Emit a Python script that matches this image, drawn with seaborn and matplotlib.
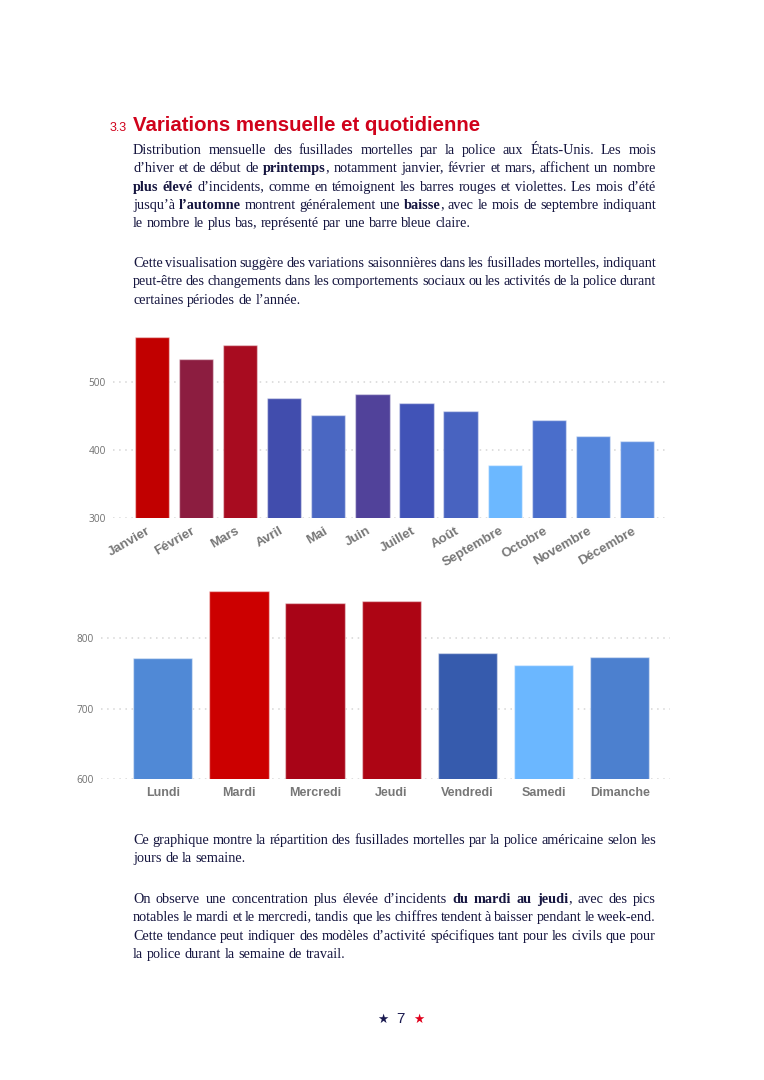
"""
Page 7 - variations mensuelle et quotidienne (fusillades mortelles)
"""
import math

import matplotlib
matplotlib.use("Agg")
import matplotlib.pyplot as plt
from matplotlib.font_manager import FontProperties
from matplotlib.transforms import ScaledTranslation
import seaborn as sns
import pandas as pd

W, H = 764, 1080

mois = ["Janvier", "Février", "Mars", "Avril", "Mai", "Juin", "Juillet",
        "Août", "Septembre", "Octobre", "Novembre", "Décembre"]
fusillades_mois = [566, 534, 555, 477, 452, 483, 469, 458, 378, 444, 421, 413]
couleurs_mois = ["#C10000", "#8C1D40", "#A80C20", "#414DAD", "#4A67C2", "#51429A",
                 "#4153B7", "#4863C0", "#6CB8FF", "#4A6ECB", "#5586DB", "#5A8BDF"]

jours = ["Lundi", "Mardi", "Mercredi", "Jeudi", "Vendredi", "Samedi", "Dimanche"]
fusillades_jours = [771, 866, 849, 852, 778, 761, 773]
couleurs_jours = ["#5089D6", "#CC0000", "#A80417", "#AD0514", "#365BAD", "#6BB7FF", "#4C80CF"]

ROUGE = "#D0021B"
ENCRE = "#15153F"
GRIS = "#777777"

para1 = [
    "Distribution mensuelle des fusillades mortelles par la police aux États-Unis. Les mois",
    "d’hiver et de début de *printemps*, notamment janvier, février et mars, affichent un nombre",
    "*plus élevé* d’incidents, comme en témoignent les barres rouges et violettes. Les mois d’été",
    "jusqu’à *l’automne* montrent généralement une *baisse*, avec le mois de septembre indiquant",
    "le nombre le plus bas, représenté par une barre bleue claire.",
]
para2 = [
    "Cette visualisation suggère des variations saisonnières dans les fusillades mortelles, indiquant",
    "peut-être des changements dans les comportements sociaux ou les activités de la police durant",
    "certaines périodes de l’année.",
]
para3 = [
    "Ce graphique montre la répartition des fusillades mortelles par la police américaine selon les",
    "jours de la semaine.",
]
para4 = [
    "On observe une concentration plus élevée d’incidents *du mardi au jeudi*, avec des pics",
    "notables le mardi et le mercredi, tandis que les chiffres tendent à baisser pendant le week-end.",
    "Cette tendance peut indiquer des modèles d’activité spécifiques tant pour les civils que pour",
    "la police durant la semaine de travail.",
]

sns.set_style("white")
plt.rcParams["font.family"] = ["Liberation Sans", "DejaVu Sans"]

fig = plt.figure(figsize=(W / 100, H / 100), dpi=100)
renderer = fig.canvas.get_renderer()

TAILLE = 10.3
TXT = dict(family="Liberation Serif", size=TAILLE, color=ENCRE)
PROPS = {False: FontProperties(family="Liberation Serif", size=TAILLE),
         True: FontProperties(family="Liberation Serif", size=TAILLE, weight="bold")}
X0, X1 = 133, 656


def fx(x):
    return x / W


def fy(y):
    return 1 - y / H


def largeur(s, bold):
    t = fig.text(0, 0, s, weight="bold" if bold else "normal", **TXT)
    w = t.get_window_extent(renderer).width
    t.remove()
    return w


def y_cale(s, bold, ligne):
    # ligne de base commune : compense l'arrondi d'Agg selon la descente du mot
    _, h, d = renderer.get_text_width_height_descent(s, PROPS[bold], ismath=False)
    haut = h - d
    return ligne + math.floor(haut + d) - math.floor(haut) - d


def decoupe(ligne):
    # mots -> liste de morceaux (texte, gras)
    mots, mot, piece, gras = [], [], "", False
    for c in ligne:
        if c == "*":
            if piece:
                mot.append((piece, gras))
            piece, gras = "", not gras
        elif c == " ":
            if piece:
                mot.append((piece, gras))
            if mot:
                mots.append(mot)
            mot, piece = [], ""
        else:
            piece += c
    if piece:
        mot.append((piece, gras))
    if mot:
        mots.append(mot)
    return mots


ESPACE = largeur("x x", False) - largeur("xx", False)


def paragraphe(lignes, y0, pas=18.3):
    for i, ligne in enumerate(lignes):
        y = round(y0 + i * pas)
        mots = decoupe(ligne)
        larg = [[largeur(p, g) for p, g in m] for m in mots]
        total = sum(sum(l) for l in larg)
        derniere = i == len(lignes) - 1
        gap = ESPACE if derniere else (X1 - X0 - total) / (len(mots) - 1)
        x = X0
        for m, l in zip(mots, larg):
            for (p, g), w in zip(m, l):
                fig.text(fx(x), fy(y_cale(p, g, y)), p, ha="left", va="baseline",
                         weight="bold" if g else "normal", **TXT)
                x += w
            x += gap


# titre
fig.text(fx(110), fy(131), "3.3", color=ROUGE, size=9, ha="left", va="baseline")
fig.text(fx(133), fy(131), "Variations mensuelle et quotidienne", color=ROUGE,
         size=14.7, weight="bold", ha="left", va="baseline")

paragraphe(para1, 154)
paragraphe(para2, 267)
paragraphe(para3, 844)
paragraphe(para4, 903)


def style_axe(ax):
    sns.despine(ax=ax, left=True, bottom=True)
    ax.set_xlabel("")
    ax.set_ylabel("")
    ax.set_axisbelow(True)
    ax.yaxis.grid(True, color="#D6D6D6", linestyle=(0, (1, 3)), linewidth=1.1)
    ax.xaxis.grid(False)
    ax.tick_params(axis="y", length=0, pad=5, labelsize=7.3, labelcolor="#707070")
    ax.tick_params(axis="x", length=0)
    for lab in ax.get_yticklabels():
        lab.set_family("Open Sans")


# graphique mensuel
df_mois = pd.DataFrame({"mois": mois, "n": fusillades_mois})
ax1 = fig.add_axes([fx(113), fy(518), (668 - 113) / W, (518 - 334.4) / H])
sns.barplot(data=df_mois, x="mois", y="n", hue="mois", palette=couleurs_mois,
            saturation=1, legend=False, width=0.78, edgecolor=(1, 1, 1, 0.45),
            linewidth=1, ax=ax1)
ax1.set_ylim(300, 570)
ax1.set_xlim(-0.88, 11.7)
ax1.set_yticks([300, 400, 500])
style_axe(ax1)
ax1.tick_params(axis="x", pad=5)
decalage = ScaledTranslation(-5 / 100, 0, fig.dpi_scale_trans)
for lab in ax1.get_xticklabels():
    lab.set_rotation(30)
    lab.set_ha("right")
    lab.set_rotation_mode("anchor")
    lab.set_fontsize(9.5)
    lab.set_fontweight("bold")
    lab.set_color(GRIS)
    lab.set_transform(lab.get_transform() + decalage)

# graphique hebdomadaire
df_jours = pd.DataFrame({"jour": jours, "n": fusillades_jours})
ax2 = fig.add_axes([fx(101), fy(779.3), (670 - 101) / W, (779.3 - 588.4) / H])
sns.barplot(data=df_jours, x="jour", y="n", hue="jour", palette=couleurs_jours,
            saturation=1, legend=False, width=0.78, edgecolor=(1, 1, 1, 0.45),
            linewidth=1, ax=ax2)
ax2.set_ylim(600, 870)
ax2.set_xlim(-0.81, 6.66)
ax2.set_yticks([600, 700, 800])
style_axe(ax2)
ax2.tick_params(axis="x", pad=5.5)
for lab in ax2.get_xticklabels():
    lab.set_fontsize(9)
    lab.set_fontweight("bold")
    lab.set_color(GRIS)

# numéro de page
fig.text(fx(383), fy(1023), "★", color="#1A1A50", size=9, ha="center", va="baseline",
         family="DejaVu Sans")
fig.text(fx(400), fy(1023), "7", color="#1A1A50", size=11, ha="center", va="baseline")
fig.text(fx(419), fy(1023), "★", color="#E0001B", size=9, ha="center", va="baseline",
         family="DejaVu Sans")

fig.savefig("out.png", dpi=100)
plt.close(fig)
print("out.png")
